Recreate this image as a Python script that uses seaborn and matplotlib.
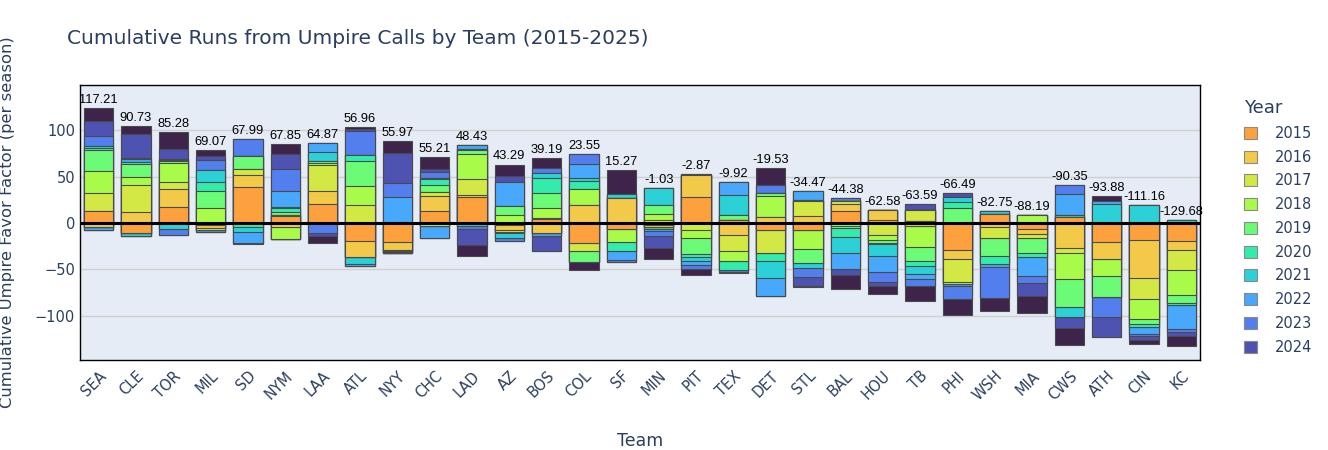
import numpy as np
import matplotlib
matplotlib.use("Agg")
import matplotlib.pyplot as plt
import matplotlib.patches as mpatches
import matplotlib.colors as mcolors
import seaborn as sns

# Teams in plotted order, and the total label shown above each bar
teams = ["SEA", "CLE", "TOR", "MIL", "SD", "NYM", "LAA", "ATL", "NYY", "CHC",
         "LAD", "AZ", "BOS", "COL", "SF", "MIN", "PIT", "TEX", "DET", "STL",
         "BAL", "HOU", "TB", "PHI", "WSH", "MIA", "CWS", "ATH", "CIN", "KC"]
totals = [117.21, 90.73, 85.28, 69.07, 67.99, 67.85, 64.87, 56.96, 55.97, 55.21,
          48.43, 43.29, 39.19, 23.55, 15.27, -1.03, -2.87, -9.92, -19.53, -34.47,
          -44.38, -62.58, -63.59, -66.49, -82.75, -88.19, -90.35, -93.88, -111.16, -129.68]
years = [2015, 2016, 2017, 2018, 2019, 2020, 2021, 2022, 2023, 2024, 2025]
year_colors = ["#fe9b2d", "#f3c63a", "#d1e834", "#a4fc3b", "#61fc6c", "#24eca6",
               "#1bcfd4", "#39a2fc", "#4675ed", "#4145ab", "#30123b"]

# runs per season
y2015 = [12.6, -11.3, 16.9, -2.0, 38.6, 7.2, 20.9, -19.4, -20.9, 12.6,
         28.1, -2.5, 4.0, -21.6, -6.1, -2.0, 28.1, 3.6, -7.9, -7.9,
         12.6, 3.6, 1.8, -28.8, 9.7, -6.1, 6.1, -20.5, -18.0, -19.1]
y2016 = [-4.0, 11.5, 19.5, -3.0, 13.3, -4.0, 13.3, -17.3, -7.9, 16.2,
         2.5, -4.7, -10.8, 19.8, 27.0, -2.5, 23.4, -13.3, 6.1, 7.9,
         8.3, 10.8, -3.0, -10.1, -4.3, -5.8, -27.0, -18.3, -41.4, -10.4]
y2017 = [19.8, 29.9, 8.3, -3.0, 6.5, 1.8, 28.5, 19.8, -1.8, 4.7,
         16.9, -2.5, 1.8, -8.3, 0.0, 3.6, -7.9, -17.3, -24.5, 16.2,
         2.5, -12.6, 11.9, -24.8, -11.5, -4.3, -5.4, 0.0, -22.3, -20.9]
y2018 = [23.4, 8.3, 19.8, 16.2, 0.0, -13.0, 2.5, 19.8, -1.0, -3.5,
         27.4, 9.0, 10.0, 16.9, -14.7, 6.1, -8.3, -10.8, 22.7, -19.8,
         -3.0, -5.4, -23.4, -1.8, 0.0, 9.0, -27.7, -18.7, -21.6, -27.7]
y2019 = [23.1, 14.4, 2.2, 17.9, 13.7, 2.5, 1.4, 27.7, -0.8, 7.6,
         3.6, 9.0, 16.8, -12.6, 0.0, 10.1, -17.3, 4.7, 3.6, -15.5,
         -2.5, -3.6, -15.1, 16.2, -19.8, -16.2, -30.3, -22.3, -5.4, -8.3]
y2020 = [1.8, 2.0, 1.4, 10.1, -4.3, 4.3, 0.0, 6.5, 0.0, 6.1,
         1.8, -0.7, 15.5, 8.3, -9.0, -2.0, -3.6, -9.0, -9.0, 1.1,
         -10.0, -1.0, -4.7, 6.1, -8.3, -4.7, 2.9, 0.0, -3.6, -2.5]
y2021 = [3.0, -2.6, -6.5, 13.3, -5.4, 1.0, 10.1, -7.2, 0.0, 1.0,
         -3.6, -5.4, 5.4, 3.6, 4.3, 18.0, -4.3, 22.3, -18.0, -5.4,
         -16.9, -13.0, -9.0, 5.8, 2.9, 0.0, -11.5, 20.5, 19.1, 2.9]
y2022 = [-3.2, 2.5, 1.4, -2.0, -12.0, 17.6, 9.4, -2.5, 28.1, -12.2,
         3.6, 26.0, -3.5, 15.3, -10.7, -2.5, -3.6, 13.7, -19.5, 9.7,
         -17.3, -16.9, -5.4, -2.5, -3.6, -19.8, 22.7, 3.6, -7.2, -25.7]
y2023 = [10.1, 1.8, -6.0, 10.1, 18.7, 24.1, -10.4, 25.9, 15.1, 6.8,
         -3.2, -4.0, 6.1, 10.8, -1.8, -4.7, -4.3, -2.7, 8.3, -10.1,
         3.6, -10.8, -7.9, -14.4, -33.5, -7.9, 9.7, -21.6, -2.5, -3.6]
y2024 = [16.9, 25.2, 10.8, 4.3, 0.0, 15.5, -4.0, 2.2, 32.6, 2.9,
         -16.5, 7.2, -16.2, 0.0, 0.0, -12.9, 1.4, 0.0, 0.0, -8.9,
         -6.1, -4.7, 7.2, 4.3, 0.0, -14.4, -11.2, -21.9, -4.7, -4.3]
y2025 = [13.7, 9.0, 17.5, 7.2, -1.1, 10.8, -6.8, 1.4, 12.6, 13.0,
         -12.2, 11.9, 10.1, -8.6, 26.3, -12.2, -6.5, -1.1, 18.7, -1.8,
         -15.6, -9.0, -16.0, -16.5, -14.35, -18.0, -18.7, 5.4, -3.6, -10.1]

series = [y2015, y2016, y2017, y2018, y2019, y2020, y2021, y2022, y2023, y2024, y2025]

text_color = "#2a3f5f"
bg_color = "#e5ecf6"

sns.set_theme(style="whitegrid", rc={"axes.facecolor": bg_color})
plt.rcParams["font.family"] = ["DejaVu Sans"]

fig, ax = plt.subplots(figsize=(13.28, 4.5), dpi=100)
fig.subplots_adjust(left=0.0602, right=0.9036, top=0.811, bottom=0.2)

# slight opacity look, blended onto the plot background
bg = np.array(mcolors.to_rgb(bg_color))
def blend(c, a=0.92):
    return tuple(a * np.array(mcolors.to_rgb(c)) + (1 - a) * bg)

vals = np.array(series)
pos_cum = np.clip(vals, 0, None).cumsum(axis=0)
neg_cum = np.clip(vals, None, 0).cumsum(axis=0)

# relative stacking: draw cumulative bars from the last year back to the first
for k in range(len(years) - 1, -1, -1):
    for stack in (pos_cum, neg_cum):
        sns.barplot(x=teams, y=stack[k], order=teams, color=blend(year_colors[k]),
                    saturation=1, width=0.78, edgecolor="#4a4a4a", linewidth=0.8,
                    errorbar=None, ax=ax)

ax.axhline(0, color="black", lw=2.2, zorder=5)

for i, t in enumerate(totals):
    ax.annotate(f"{t:.2f}", (i, pos_cum[-1][i]), xytext=(0, 1.5), textcoords="offset points",
                ha="center", va="bottom", fontsize=9.3, family="Liberation Sans", color="black")

ax.set_xlim(-0.5, len(teams) - 0.5)
ax.set_ylim(-148, 149)
ax.set_yticks([-100, -50, 0, 50, 100])
ax.set_axisbelow(True)
ax.yaxis.grid(True, color="#d0d0d0", lw=1)
ax.xaxis.grid(False)
for s in ax.spines.values():
    s.set_visible(True)
    s.set_color("black")
    s.set_linewidth(1)

ax.set_xticks(range(len(teams)))
ax.set_xticklabels(teams, rotation=45, ha="right", va="top", rotation_mode="anchor")
ax.tick_params(axis="both", length=0, labelsize=10.5, labelcolor=text_color)
ax.tick_params(axis="x", pad=6)

ax.set_xlabel("Team", fontsize=12.5, color=text_color)
ax.set_ylabel("Cumulative Umpire Favor Factor (per season)", fontsize=11.8, color=text_color)
ax.xaxis.set_label_coords(0.5, -0.262)
ax.yaxis.set_label_coords(-0.058, 0.5)

fig.text(67 / 1328, 1 - 38 / 450, "Cumulative Runs from Umpire Calls by Team (2015-2025)",
         fontsize=14.5, color=text_color, ha="left", va="center")

handles = [mpatches.Patch(facecolor=blend(year_colors[k]), edgecolor="#8a8a8a", lw=0.8,
                          label=str(years[k])) for k in range(10)]
leg = fig.legend(handles=handles, title="Year", loc="upper left",
                 bbox_to_anchor=(1231 / 1328, 1 - 86 / 450), frameon=False,
                 fontsize=10.5, title_fontsize=13, handlelength=0.9, handleheight=0.9,
                 handletextpad=1.2, labelspacing=0.6, alignment="left")
for txt in leg.get_texts():
    txt.set_color(text_color)
leg.get_title().set_color(text_color)

fig.savefig("out.png", dpi=100)
